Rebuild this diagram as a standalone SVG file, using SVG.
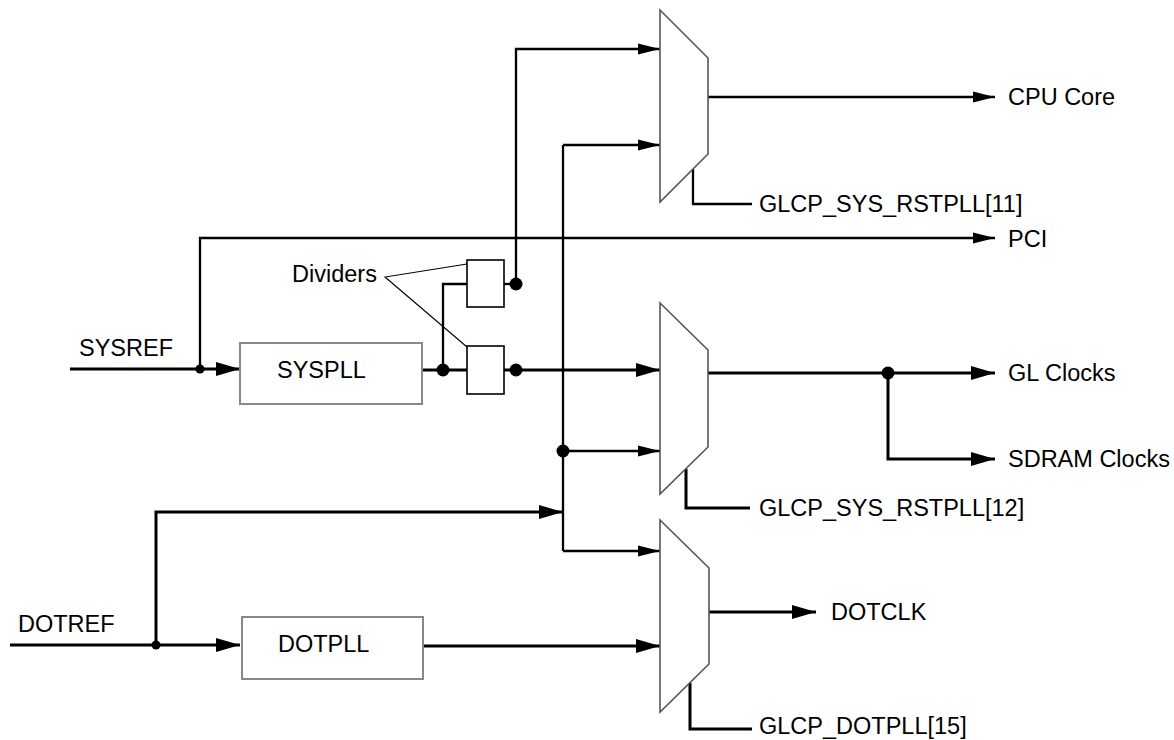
<svg xmlns="http://www.w3.org/2000/svg" width="1174" height="740" viewBox="0 0 1174 740">
<style>
  text { font-family: "Liberation Sans", Arial, sans-serif; font-size: 23.5px; fill: #000; }
  .mux { fill: #fff; stroke: #555; stroke-width: 1.6; }
  .pll { fill: #fff; stroke: #888; stroke-width: 2; }
  .div { fill: #fff; stroke: #000; stroke-width: 1.6; }
  .w3 { fill: none; stroke: #000; stroke-width: 3; }
  .w2 { fill: none; stroke: #000; stroke-width: 2.3; }
  .w1 { fill: none; stroke: #000; stroke-width: 1.1; }
  .w3.arr { marker-end: url(#ahL); }
  .w2.arr { marker-end: url(#ahS); }
  .dot { fill: #000; }
</style>
<defs>
  <marker id="ahL" markerUnits="userSpaceOnUse" markerWidth="24" markerHeight="14" refX="24" refY="7" orient="auto">
    <path d="M0,0 L24,7 L0,14 z" fill="#000"/>
  </marker>
  <marker id="ahS" markerUnits="userSpaceOnUse" markerWidth="22" markerHeight="12" refX="22" refY="6" orient="auto">
    <path d="M0,0.5 L22,6 L0,11.5 z" fill="#000"/>
  </marker>
</defs>
<rect width="1174" height="740" fill="#fff"/>

<g id="connectors">
  <path class="w3 arr" d="M70,369 H240"/>
  <path class="w2 arr" d="M200,369 V238 H995"/>
  <path class="w3" d="M422,370 H467"/>
  <path class="w2" d="M443,370 V284 H467"/>
  <path class="w3 arr" d="M504,370 H660"/>
  <path class="w2" d="M504,284 H516"/>
  <path class="w2 arr" d="M516,284 V49 H660"/>
  <path class="w2 arr" d="M563,145 H660"/>
  <path class="w2" d="M563,145 V551"/>
  <path class="w2 arr" d="M563,451 H660"/>
  <path class="w2 arr" d="M563,551 H660"/>
  <path class="w3 arr" d="M10,645 H240"/>
  <path class="w3 arr" d="M156,645 V512 H563"/>
  <path class="w3 arr" d="M423,646 H660"/>
  <path class="w2 arr" d="M708,97 H995"/>
  <path class="w3 arr" d="M708,373 H995"/>
  <path class="w3 arr" d="M888,373 V459 H995"/>
  <path class="w3 arr" d="M709,612 H816"/>
  <path class="w2" d="M693,169 V204 H752"/>
  <path class="w3" d="M686,469 V508 H750"/>
  <path class="w3" d="M690,683 V729 H752"/>
  <path class="w1" d="M467,264 L385,277 L467,347"/>
  <circle class="dot" cx="200" cy="369" r="4.5"/>
  <circle class="dot" cx="156" cy="645" r="4.5"/>
  <circle class="dot" cx="443" cy="370" r="6.5"/>
  <circle class="dot" cx="516" cy="370" r="6.5"/>
  <circle class="dot" cx="516" cy="284" r="6.5"/>
  <circle class="dot" cx="563" cy="451" r="6.5"/>
  <circle class="dot" cx="888" cy="373" r="6.5"/>
</g>

<g id="mux-cpu"><polygon class="mux" points="660,10 708,58 708,154 660,202"/></g>
<g id="mux-gl"><polygon class="mux" points="660,303 708,350 708,447 660,494"/></g>
<g id="mux-dot"><polygon class="mux" points="660,520 709,568 709,664 660,712"/></g>

<g id="syspll"><rect class="pll" x="240" y="343" width="182" height="61"/><text x="277" y="378">SYSPLL</text></g>
<g id="dotpll"><rect class="pll" x="242" y="617" width="181" height="62"/><text x="278" y="652">DOTPLL</text></g>
<g id="divider-upper"><rect class="div" x="467" y="260" width="37" height="47"/></g>
<g id="divider-lower"><rect class="div" x="467" y="346" width="37" height="48"/></g>

<g id="labels">
  <text x="79" y="356">SYSREF</text>
  <text x="18" y="632">DOTREF</text>
  <text x="292" y="282">Dividers</text>
  <text x="1008" y="105">CPU Core</text>
  <text x="1008" y="247">PCI</text>
  <text x="1008" y="381">GL Clocks</text>
  <text x="1008" y="467">SDRAM Clocks</text>
  <text x="831" y="620">DOTCLK</text>
  <text x="759" y="212">GLCP_SYS_RSTPLL[11]</text>
  <text x="759" y="516">GLCP_SYS_RSTPLL[12]</text>
  <text x="759" y="734">GLCP_DOTPLL[15]</text>
</g>
</svg>
